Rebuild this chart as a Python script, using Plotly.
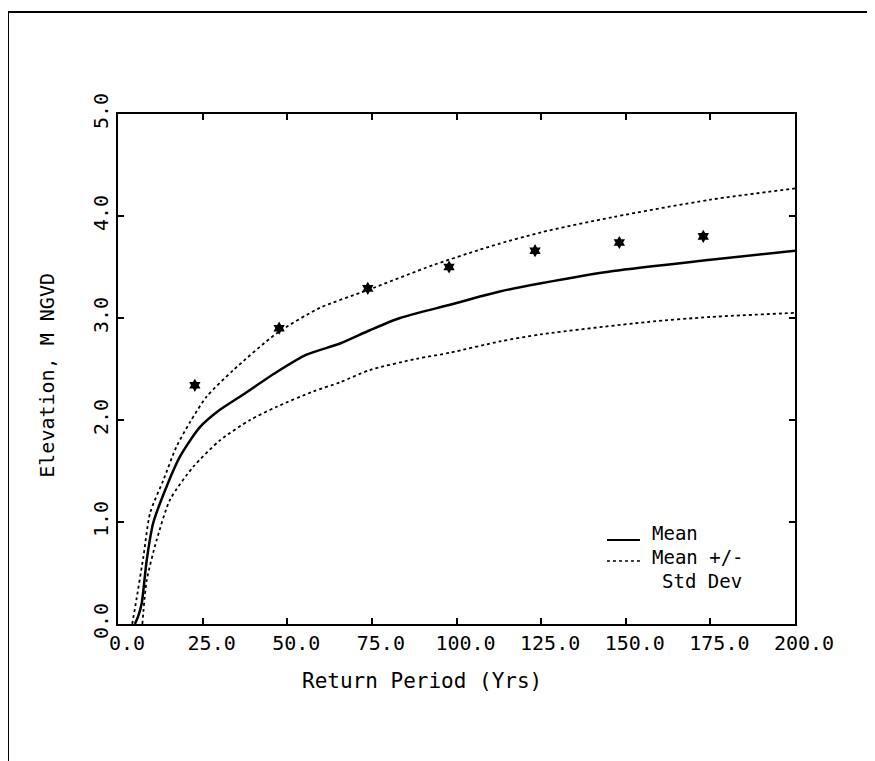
import plotly.graph_objects as go

# ---- data ----
mean_x = [5.0, 6.0, 7.0, 8.5, 10.4, 14.4, 18.3, 24.2, 30.1, 37.0, 46.9, 55.7, 65.6, 74.4,
          83.3, 98.1, 106.9, 112.8, 125.0, 146.3, 175.0, 200.0]
mean_y = [0.0, 0.08, 0.20, 0.63, 0.99, 1.35, 1.64, 1.93, 2.10, 2.25, 2.47, 2.64, 2.75, 2.88,
          3.00, 3.13, 3.21, 3.26, 3.34, 3.46, 3.57, 3.66]

upper_x = [4.2, 5.5, 7.5, 9.5, 13.4, 17.3, 21.3, 26.2, 34.1, 46.9, 59.7, 73.5, 93.2,
           106.9, 112.8, 125.0, 146.3, 175.0, 200.0]
upper_y = [0.0, 0.25, 0.66, 1.09, 1.41, 1.74, 1.98, 2.23, 2.49, 2.85, 3.10, 3.27, 3.52,
           3.67, 3.73, 3.84, 3.99, 4.16, 4.27]

lower_x = [7.2, 8.5, 11.4, 15.4, 22.2, 30.1, 39.0, 46.9, 57.7, 65.6, 74.4, 88.2, 98.1,
           112.8, 125.0, 156.2, 175.0, 200.0]
lower_y = [0.0, 0.43, 0.82, 1.22, 1.54, 1.80, 2.00, 2.13, 2.28, 2.37, 2.49, 2.60, 2.66,
           2.77, 2.84, 2.96, 3.01, 3.05]

obs_x = [22.7, 47.6, 73.8, 97.8, 123.2, 148.1, 172.9]
obs_y = [2.34, 2.90, 3.29, 3.50, 3.66, 3.74, 3.80]

x_ticks = [0, 25, 50, 75, 100, 125, 150, 175, 200]
y_ticks = [0, 1, 2, 3, 4, 5]

FONT = "DejaVu Sans Mono"

fig = go.Figure()
fig.add_trace(go.Scatter(x=upper_x, y=upper_y, mode="lines",
                         line=dict(color="black", width=1.8, dash="dot", shape="spline", smoothing=0.7),
                         showlegend=False))
fig.add_trace(go.Scatter(x=lower_x, y=lower_y, mode="lines",
                         line=dict(color="black", width=1.8, dash="dot", shape="spline", smoothing=0.7),
                         showlegend=False))
fig.add_trace(go.Scatter(x=mean_x, y=mean_y, mode="lines",
                         line=dict(color="black", width=2.5, shape="spline", smoothing=0.7),
                         showlegend=False))
fig.add_trace(go.Scatter(x=obs_x, y=obs_y, mode="markers",
                         marker=dict(symbol="hexagram", size=10, color="black"),
                         showlegend=False))

axis_common = dict(showgrid=False, zeroline=False, showline=True, linecolor="black",
                   linewidth=2, mirror="ticks", ticks="inside", ticklen=6, tickwidth=1.5,
                   tickcolor="black", tickfont=dict(family=FONT, size=20, color="black"))

fig.update_xaxes(range=[0, 200], tickvals=x_ticks,
                 ticktext=[f"{v:.1f}" for v in x_ticks], ticklabelshift=9, **axis_common)
fig.update_yaxes(range=[0, 5], tickvals=y_ticks,
                 ticktext=[f"{v:.1f}" for v in y_ticks], tickangle=-90, **axis_common)

# page frame (top and left edges)
fig.add_shape(type="line", xref="paper", yref="paper", x0=-0.1625, x1=1.13, y0=1.2, y1=1.2,
              line=dict(color="black", width=2))
fig.add_shape(type="line", xref="paper", yref="paper", x0=-0.1625, x1=-0.1625, y0=1.2, y1=-0.27,
              line=dict(color="black", width=2))

# legend samples
fig.add_shape(type="line", xref="paper", yref="paper", x0=0.7223, x1=0.771, y0=0.1647, y1=0.1647,
              line=dict(color="black", width=2))
fig.add_shape(type="line", xref="paper", yref="paper", x0=0.7223, x1=0.771, y0=0.1235, y1=0.1235,
              line=dict(color="black", width=1.5, dash="dot"))

ann_font = dict(family=FONT, size=19, color="black")
fig.add_annotation(text="Mean", xref="paper", yref="paper", x=0.7858, y=0.1784,
                   xanchor="left", yanchor="middle", showarrow=False, font=ann_font)
fig.add_annotation(text="Mean +/-", xref="paper", yref="paper", x=0.7858, y=0.1314,
                   xanchor="left", yanchor="middle", showarrow=False, font=ann_font)
fig.add_annotation(text="Std Dev", xref="paper", yref="paper", x=0.8006, y=0.0843,
                   xanchor="left", yanchor="middle", showarrow=False, font=ann_font)

# axis titles
fig.add_annotation(text="Return Period (Yrs)", xref="paper", yref="paper", x=0.449, y=-0.112,
                   xanchor="center", yanchor="middle", showarrow=False,
                   font=dict(family=FONT, size=21, color="black"))
fig.add_annotation(text="Elevation, M NGVD", xref="paper", yref="paper", x=-0.104, y=0.488,
                   xanchor="center", yanchor="middle", textangle=-90, showarrow=False,
                   font=dict(family=FONT, size=20, color="black"))

fig.update_layout(width=867, height=753, margin=dict(l=110, r=80, t=106, b=137),
                  plot_bgcolor="white", paper_bgcolor="white", showlegend=False)

fig.write_html("out.html")
